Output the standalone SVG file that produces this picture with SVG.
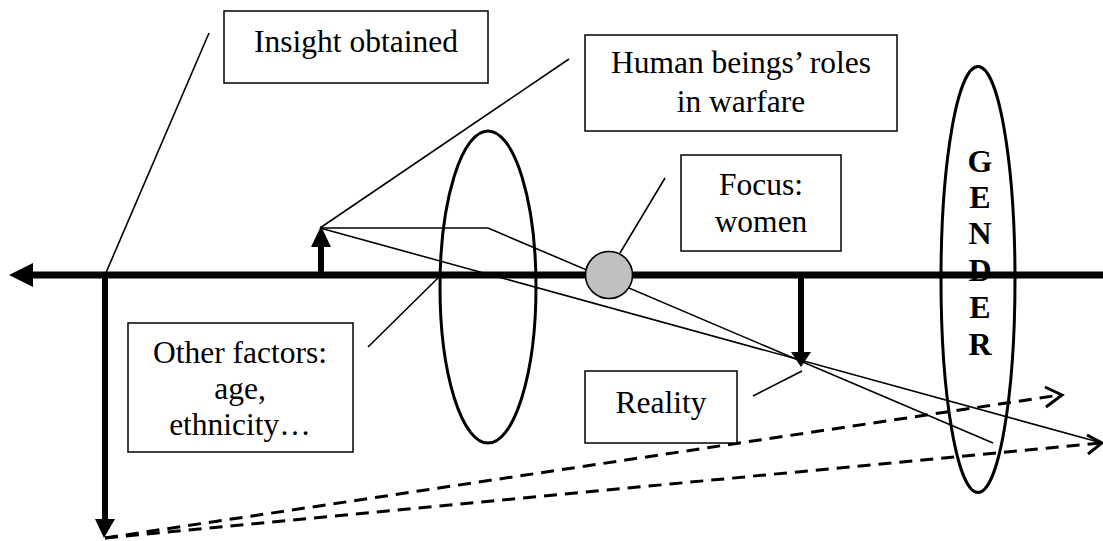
<svg xmlns="http://www.w3.org/2000/svg" width="1103" height="541" viewBox="0 0 1103 541">
  <style>
    .box { fill: #ffffff; stroke: #000000; stroke-width: 1.5; }
    .txt { font-family: "Liberation Serif", "Times New Roman", serif; font-size: 31.5px; fill: #000000; text-anchor: middle; }
    .big { font-family: "Liberation Serif", "Times New Roman", serif; font-size: 32px; font-weight: bold; fill: #000000; text-anchor: middle; }
    .thin { fill: none; stroke: #000000; stroke-width: 1.6; }
    .thick { fill: none; stroke: #000000; stroke-width: 6; }
    .dash { fill: none; stroke: #000000; stroke-width: 3; stroke-dasharray: 13 8; }
    .chev { fill: none; stroke: #000000; stroke-width: 3; }
    .lens { fill: none; stroke: #000000; stroke-width: 3; }
  </style>
  <rect width="1103" height="541" fill="#ffffff"/>

  <g id="connectors">
    <!-- main axis -->
    <line x1="30" y1="275" x2="1103" y2="275" stroke="#000" stroke-width="7"/>
    <polygon points="9,275 33,263 33,287" fill="#000"/>
    <!-- insight vertical arrow -->
    <line class="thick" x1="105" y1="275" x2="105" y2="521"/>
    <polygon points="95,519 115,519 104,538" fill="#000"/>
    <!-- object up arrow -->
    <line class="thick" x1="321" y1="278" x2="321" y2="245"/>
    <polygon points="311,247 331,247 321,226" fill="#000"/>
    <!-- reality down arrow -->
    <line class="thick" x1="801" y1="275" x2="801" y2="354"/>
    <polygon points="791,352 811,352 801,367" fill="#000"/>
    <!-- rays -->
    <polyline class="thin" points="320,228 488,228 993,443"/>
    <line class="thin" x1="320" y1="228" x2="1102" y2="443"/>
    <!-- dashed rays -->
    <line class="dash" x1="105" y1="538" x2="1060" y2="395"/>
    <line class="dash" x1="105" y1="538" x2="1100" y2="443"/>
    <polyline class="chev" points="1045,387 1062,395 1046,407"/>
    <polyline class="chev" points="1087,435 1102,443 1088,454"/>
    <!-- callout lines -->
    <line class="thin" x1="105" y1="275" x2="209" y2="33"/>
    <line class="thin" x1="320" y1="228" x2="569" y2="59"/>
    <line class="thin" x1="620" y1="253" x2="665" y2="178"/>
    <line class="thin" x1="368" y1="347" x2="438" y2="278"/>
    <line class="thin" x1="753" y1="396" x2="802" y2="371"/>
  </g>

  <g id="lens">
    <ellipse class="lens" cx="488" cy="287" rx="48" ry="156"/>
  </g>

  <g id="focus-point">
    <circle cx="609" cy="275" r="23.5" fill="#c0c0c0" stroke="#000" stroke-width="1.6"/>
  </g>

  <g id="gender">
    <ellipse class="lens" cx="978" cy="279.5" rx="37" ry="213"/>
    <text class="big" x="980" y="172">G</text>
    <text class="big" x="980" y="208">E</text>
    <text class="big" x="980" y="244">N</text>
    <text class="big" x="980" y="281">D</text>
    <text class="big" x="980" y="318">E</text>
    <text class="big" x="980" y="355">R</text>
  </g>

  <g id="insight">
    <rect class="box" x="224" y="11" width="264" height="72"/>
    <text class="txt" x="356" y="52">Insight obtained</text>
  </g>

  <g id="human">
    <rect class="box" x="585" y="35" width="312" height="96"/>
    <text class="txt" x="741" y="73">Human beings’ roles</text>
    <text class="txt" x="741" y="112">in warfare</text>
  </g>

  <g id="focus">
    <rect class="box" x="681" y="155" width="160" height="96"/>
    <text class="txt" x="761" y="195">Focus:</text>
    <text class="txt" x="761" y="232">women</text>
  </g>

  <g id="other">
    <rect class="box" x="128" y="323" width="225" height="129"/>
    <text class="txt" x="240" y="363">Other factors:</text>
    <text class="txt" x="240" y="399">age,</text>
    <text class="txt" x="240" y="435">ethnicity…</text>
  </g>

  <g id="reality">
    <rect class="box" x="585" y="371" width="152" height="72"/>
    <text class="txt" x="661" y="413">Reality</text>
  </g>
</svg>
